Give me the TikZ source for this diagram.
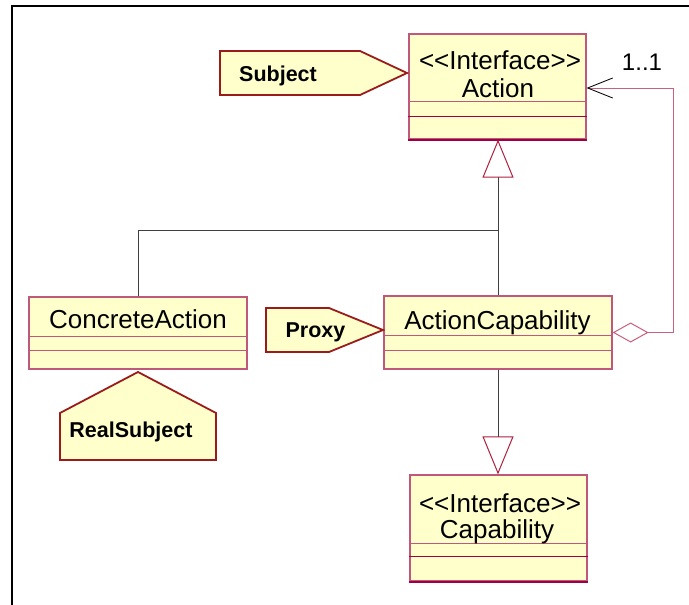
\documentclass[tikz,border=0pt]{standalone}
\usepackage{fontspec}
\newfontfamily\umlfont{Liberation Sans}
\usetikzlibrary{arrows.meta}
\definecolor{classfill}{HTML}{FFFFCC}
\definecolor{classline}{HTML}{C0587C}
\definecolor{classdark}{HTML}{A00040}
\definecolor{tagline}{HTML}{9B1B1B}
\definecolor{assocline}{HTML}{C8607E}
\definecolor{gentri}{HTML}{B0203F}
\definecolor{genline}{HTML}{404040}
\begin{document}
\begin{tikzpicture}[x=1pt,y=-1pt,
  classbox/.style={draw=classline, fill=classfill, line width=1.2pt, rectangle, inner sep=0pt},
  divider/.style={draw=classline, line width=1pt},
  darkedge/.style={draw=classdark, line width=2pt},
  tagshape/.style={draw=tagline, fill=classfill, line width=1.8pt, line join=miter},
  classtext/.style={font=\umlfont\fontsize{26}{28}\selectfont, inner sep=0pt, anchor=base},
  tagtext/.style={font=\umlfont\bfseries\fontsize{21.5}{24}\selectfont, inner sep=0pt, anchor=base},
  multtext/.style={font=\umlfont\fontsize{24}{26}\selectfont, inner sep=0pt, anchor=base},
  genplain/.style={draw=genline, line width=1pt},
  gen/.style={draw=genline, line width=1pt,
    -{Triangle[open, length=38pt, width=31pt, color=gentri, line width=1pt]}},
  assoc/.style={draw=assocline, line width=1pt,
    {Diamond[open, length=36pt, width=20pt, color=assocline, line width=1pt]}-{Straight Barb[length=25pt, width=20pt, color=black, line width=0.8pt]}}
]
\useasboundingbox (0,0) rectangle (689,605);
\fill[white] (0,0) rectangle (689,605);

% page frame
\draw[line width=2.2pt] (12,605) -- (12,6) -- (689,6);

% class boxes
\node[classbox, minimum width=177pt, minimum height=105pt] (action)   at (497.5,86.5) {};
\node[classbox, minimum width=218pt, minimum height=72pt]  (concrete) at (138,333) {};
\node[classbox, minimum width=228pt, minimum height=73pt]  (actcap)   at (498,332.5) {};
\node[classbox, minimum width=177pt, minimum height=106pt] (capab)    at (498.5,528) {};

% compartments
\draw[divider] (action.west |- 0,101) -- (action.east |- 0,101);
\draw[divider, draw=classdark] (action.west |- 0,116) -- (action.east |- 0,116);
\draw[darkedge] (action.south west) -- (action.south east);
\draw[divider] (concrete.west |- 0,336) -- (concrete.east |- 0,336);
\draw[divider] (concrete.west |- 0,350) -- (concrete.east |- 0,350);
\draw[divider] (actcap.west |- 0,335) -- (actcap.east |- 0,335);
\draw[divider] (actcap.west |- 0,350) -- (actcap.east |- 0,350);
\draw[divider] (capab.west |- 0,543) -- (capab.east |- 0,543);
\draw[divider, draw=classdark] (capab.west |- 0,556) -- (capab.east |- 0,556);
\draw[darkedge] (capab.south west) -- (capab.south east);

% class names
\node[classtext] (actionst)   at (500,69)  {<<Interface>>};
\node[classtext] (actionname) at (498,97)  {Action};
\node[classtext] (concname)   at (138,328) {ConcreteAction};
\node[classtext] (actcapname) at (497.5,329) {ActionCapability};
\node[classtext] (capabst)    at (500,512) {<<Interface>>};
\node[classtext] (capabname)  at (497,538) {Capability};

% role tags
\draw[tagshape] (220,51) -- (360,51) -- (407,73) -- (360,95) -- (220,95) -- cycle;
\node[tagtext] (subject) at (278,81) {Subject};
\draw[tagshape] (138,372) -- (216,413) -- (216,460) -- (60,460) -- (60,413) -- cycle;
\node[tagtext] (realsubject) at (131,437) {RealSubject};
\draw[tagshape] (266,308) -- (329,308) -- (383,330) -- (329,352) -- (266,352) -- cycle;
\node[tagtext] (proxy) at (315.5,337) {Proxy};

% generalisations
\coordinate (join) at (498,230);
\draw[genplain] (concrete.north) |- (join);
\draw[gen] (actcap.north) -- (actcap.north |- action.south);
\draw[gen] (actcap.south) -- (actcap.south |- capab.north);

% aggregation back to the interface
\coordinate (turn) at (673,88);
\draw[assoc] (actcap.east) -| (turn) -- (action.east |- turn);
\node[multtext] (mult) at (642,70) {1..1};
\end{tikzpicture}
\end{document}
